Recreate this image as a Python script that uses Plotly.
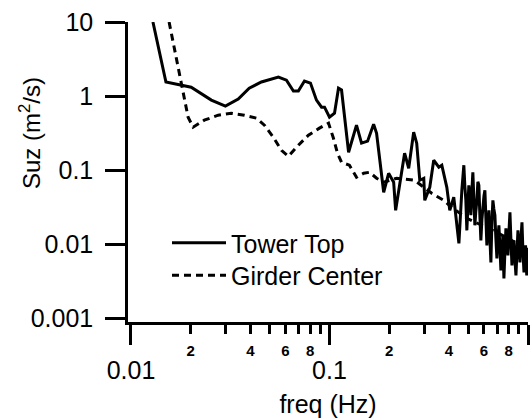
import plotly.graph_objects as go

# ---- data ----
freq_tower = [0.0129, 0.0150, 0.0201, 0.0254, 0.0299, 0.0347, 0.0394, 0.0454, 0.0553, 0.0607,
              0.0658, 0.0697, 0.0748, 0.0802, 0.0860, 0.0912, 0.0944, 0.100, 0.106, 0.111,
              0.115, 0.1248, 0.1368, 0.145, 0.1556, 0.1668, 0.1727, 0.1875, 0.1986, 0.2105,
              0.2154, 0.239, 0.2506, 0.2655, 0.275, 0.285, 0.2985, 0.302, 0.320, 0.335,
              0.3555, 0.368, 0.390, 0.4036, 0.4227, 0.4487,
              0.4642, 0.4700, 0.4751, 0.4810, 0.4863, 0.4920, 0.4980, 0.5035, 0.5090, 0.5154,
              0.5210, 0.5275, 0.5340, 0.5399, 0.5460, 0.5526, 0.5590, 0.5656, 0.5720, 0.5789,
              0.5860, 0.5925, 0.6000, 0.6065, 0.6130, 0.6207, 0.6280, 0.6353, 0.6430, 0.6502,
              0.6580, 0.6655, 0.6730, 0.6812, 0.6890, 0.6972, 0.7050, 0.7136, 0.7220, 0.7304,
              0.7390, 0.7475, 0.7520, 0.7563, 0.7650, 0.7741, 0.7830, 0.7924, 0.8020, 0.8110,
              0.8200, 0.8301, 0.8400, 0.8496, 0.8600, 0.8696, 0.8800, 0.8901, 0.9000, 0.9110,
              0.9220, 0.9325, 0.9430, 0.9544, 0.9650, 0.9720, 0.9800, 0.9860, 0.9930, 1.0000]
suz_tower = [10.0, 1.55, 1.32, 0.883, 0.733, 0.911, 1.28, 1.55, 1.81, 1.64,
             1.17, 1.17, 1.60, 1.50, 0.883, 0.71, 0.71, 0.52, 0.589, 1.28,
             1.21, 0.175, 0.406, 0.232, 0.247, 0.419, 0.316, 0.0505, 0.091, 0.0689,
             0.0288, 0.170, 0.1064, 0.326, 0.232, 0.0733, 0.078, 0.0393, 0.0589, 0.1365,
             0.1099, 0.117, 0.0589, 0.0288, 0.0432, 0.0103,
             0.0537, 0.090, 0.117, 0.060, 0.0393, 0.01545, 0.030, 0.0627, 0.045, 0.0247,
             0.050, 0.094, 0.040, 0.0181, 0.028, 0.0393, 0.070, 0.0627, 0.025, 0.01132,
             0.022, 0.0337, 0.045, 0.0537, 0.020, 0.00969, 0.016, 0.0288, 0.012, 0.00571,
             0.020, 0.0393, 0.030, 0.0247, 0.012, 0.00647, 0.012, 0.0181, 0.009, 0.00446,
             0.008, 0.01324, 0.006, 0.00347, 0.008, 0.01644, 0.012, 0.0071, 0.015, 0.0271,
             0.012, 0.0052, 0.008, 0.01132, 0.006, 0.00381, 0.008, 0.01545, 0.010, 0.00571,
             0.012, 0.0198, 0.008, 0.00418, 0.007, 0.00969, 0.005, 0.00381, 0.009, 0.0071]

freq_girder = [0.01556, 0.01748, 0.0194, 0.02056, 0.0234, 0.0275, 0.032, 0.0372, 0.0428, 0.047,
               0.0521, 0.0573, 0.0621, 0.0697, 0.0783, 0.089, 0.0989, 0.1047, 0.1097, 0.115,
               0.126, 0.1368, 0.1486, 0.1593, 0.1727, 0.1875, 0.218, 0.2686, 0.3273, 0.3767,
               0.4132, 0.492, 0.586, 0.697, 0.830, 1.0]
suz_girder = [10.0, 2.05, 0.52, 0.381, 0.474, 0.553, 0.589, 0.553, 0.505, 0.406,
              0.279, 0.186, 0.1545, 0.218, 0.297, 0.37, 0.432, 0.27, 0.17, 0.128,
              0.117, 0.0804, 0.091, 0.094, 0.078, 0.0689, 0.078, 0.0733, 0.0489, 0.0393,
              0.0316, 0.0225, 0.0181, 0.0145, 0.0113, 0.0083]

y_ticks = [10, 1, 0.1, 0.01, 0.001]
y_ticktext = ["10", "1", "0.1", "0.01", "0.001"]
x_major = [0.01, 0.1, 1]
x_major_text = ["0.01", "0.1", "1"]
x_minor = [0.02, 0.03, 0.04, 0.05, 0.06, 0.07, 0.08, 0.09,
           0.2, 0.3, 0.4, 0.5, 0.6, 0.7, 0.8, 0.9]
x_minor_text = ["2", "", "4", "", "6", "", "8", "",
                "2", "", "4", "", "6", "", "8", ""]

FONT = "Liberation Sans, Arial, Helvetica, sans-serif"
FS = 25

fig = go.Figure()
fig.add_trace(go.Scatter(x=freq_tower, y=suz_tower, mode="lines", name="Tower Top",
                         legend="legend",
                         line=dict(color="black", width=3)))
fig.add_trace(go.Scatter(x=freq_girder, y=suz_girder, mode="lines", name="Girder Center",
                         legend="legend2",
                         line=dict(color="black", width=3, dash="7px,5px")))

xr = [-2.015, 0.0]
leg_common = dict(x=0.0975, xanchor="left", yanchor="middle",
                  bgcolor="rgba(0,0,0,0)", font=dict(size=FS, family=FONT),
                  itemwidth=54)
fig.update_layout(
    width=531, height=420,
    margin=dict(l=128, r=3, t=22, b=98),
    paper_bgcolor="white", plot_bgcolor="white",
    font=dict(family=FONT, color="black", size=FS),
    showlegend=True,
    legend=dict(y=0.263, **leg_common),
    legend2=dict(y=0.155, **leg_common),
    xaxis=dict(type="log", range=xr, showgrid=False, zeroline=False,
               showline=True, linecolor="black", linewidth=2.5,
               ticks="outside", ticklen=20, tickwidth=2.5, tickcolor="black",
               tickvals=x_major, ticktext=x_major_text,
               tickfont=dict(size=FS, family=FONT),
               ticklabelstandoff=4,
               title=dict(text="freq (Hz)", font=dict(size=FS, family=FONT), standoff=13)),
    xaxis2=dict(type="log", range=xr, overlaying="x", side="bottom", anchor="y",
                showgrid=False, zeroline=False, showline=False,
                ticks="outside", ticklen=11, tickwidth=2.5, tickcolor="black",
                tickvals=x_minor, ticktext=x_minor_text,
                tickfont=dict(size=15, family=FONT, weight="bold"),
                ticklabelstandoff=4),
    yaxis=dict(type="log", range=[-3.047, 1.0], showgrid=False, zeroline=False,
               showline=True, linecolor="black", linewidth=2.5,
               ticks="outside", ticklen=20, tickwidth=2.5, tickcolor="black",
               tickvals=y_ticks, ticktext=y_ticktext,
               tickfont=dict(size=FS, family=FONT), ticklabelstandoff=7),
    annotations=[dict(text="Suz (m<sup>2</sup>/s)", textangle=-90,
                      xref="paper", yref="paper", x=-0.245, y=0.63,
                      xanchor="center", yanchor="middle", showarrow=False,
                      font=dict(size=24, family=FONT))],
)
# make the minor-tick axis render
fig.add_trace(go.Scatter(x=[0.5], y=[1], xaxis="x2", mode="markers",
                         marker=dict(opacity=0), showlegend=False, hoverinfo="skip"))

fig.write_html("out.html")
